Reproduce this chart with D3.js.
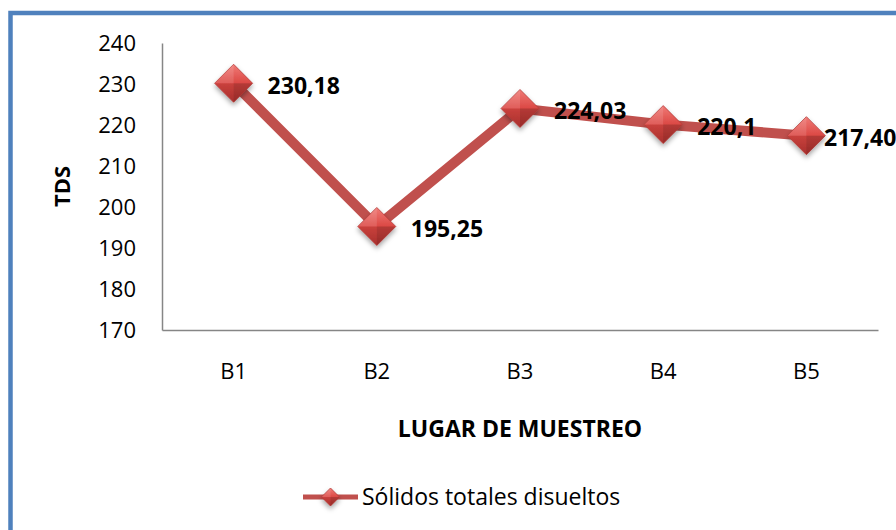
<!DOCTYPE html>
<html>
<head>
<meta charset="utf-8">
<script src="https://cdn.jsdelivr.net/npm/d3@7"></script>
<style>
  body { margin: 0; background: #fff; }
  svg { display: block; font-family: 'Open Sans', sans-serif; }
</style>
</head>
<body>
<div id="chart"></div>
<script>
// data
const categories = ['B1', 'B2', 'B3', 'B4', 'B5'];
const tdsValues = [230.18, 195.25, 224.03, 220.1, 217.40];
const valueLabels = ['230,18', '195,25', '224,03', '220,1', '217,40'];
const yTicks = [170, 180, 190, 200, 210, 220, 230, 240];
const seriesName = 'Sólidos totales disueltos';

var width = 896, height = 530;
var margin = {top: 43, right: 18, bottom: 200, left: 162};
var lineColor = '#c0504d';

var svg = d3.select('#chart')
  .append('svg')
  .attr('width', width)
  .attr('height', height);

var defs = svg.append('defs');

// gradient for the diamond markers
var grad = defs.append('linearGradient')
  .attr('id', 'markerGrad')
  .attr('x1', 0).attr('y1', 0).attr('x2', 0).attr('y2', 1);
grad.append('stop').attr('offset', '0%').attr('stop-color', '#f07a76');
grad.append('stop').attr('offset', '48%').attr('stop-color', '#dc4a46');
grad.append('stop').attr('offset', '52%').attr('stop-color', '#c8403c');
grad.append('stop').attr('offset', '100%').attr('stop-color', '#a8302d');

var shadow = defs.append('filter')
  .attr('id', 'shadow')
  .attr('x', '-50%').attr('y', '-50%')
  .attr('width', '200%').attr('height', '200%');
shadow.append('feDropShadow')
  .attr('dx', 0).attr('dy', 3)
  .attr('stdDeviation', 2.5)
  .attr('flood-color', '#000')
  .attr('flood-opacity', 0.35);

// outer blue frame (only top and left visible)
svg.append('rect')
  .attr('x', 10.5)
  .attr('y', 13)
  .attr('width', 960)
  .attr('height', 600)
  .attr('fill', 'none')
  .attr('stroke', '#4f81bd')
  .attr('stroke-width', 4.5);

var x = d3.scaleBand()
  .domain(categories)
  .range([margin.left, width - margin.right]);

var y = d3.scaleLinear()
  .domain([170, 240])
  .range([height - margin.bottom, margin.top]);

// axes
var yAxis = svg.append('g')
  .attr('transform', 'translate(' + margin.left + ',0)')
  .call(d3.axisLeft(y).tickValues(yTicks).tickSize(0).tickPadding(26));

var xAxis = svg.append('g')
  .attr('transform', 'translate(0,' + (height - margin.bottom) + ')')
  .call(d3.axisBottom(x).tickSize(0).tickPadding(33));

[yAxis, xAxis].forEach(function (g) {
  g.select('.domain').attr('stroke', '#868686').attr('stroke-width', 1.5);
  g.selectAll('text')
    .attr('font-family', "'Open Sans', sans-serif")
    .attr('font-size', 22)
    .attr('fill', '#000');
});
yAxis.selectAll('text').attr('dy', '0.36em');
xAxis.selectAll('text').attr('dy', '0.72em');

// axis titles
svg.append('text')
  .attr('transform', 'translate(70,' + y(205) + ') rotate(-90)')
  .attr('text-anchor', 'middle')
  .attr('font-size', 22)
  .attr('font-weight', 'bold')
  .text('TDS');

svg.append('text')
  .attr('x', x.range()[0] + (x.range()[1] - x.range()[0]) / 2)
  .attr('y', 437)
  .attr('text-anchor', 'middle')
  .attr('font-size', 23)
  .attr('font-weight', 'bold')
  .text('LUGAR DE MUESTREO');

// series line
var points = categories.map(function (c, i) {
  return {cat: c, value: tdsValues[i], label: valueLabels[i]};
});

var line = d3.line()
  .x(function (d) { return x(d.cat) + x.bandwidth() / 2; })
  .y(function (d) { return y(d.value); });

svg.append('path')
  .datum(points)
  .attr('d', line)
  .attr('fill', 'none')
  .attr('stroke', lineColor)
  .attr('stroke-width', 10)
  .attr('stroke-linejoin', 'round');

function diamond(g, r) {
  g.append('path')
    .attr('d', 'M0,' + (-r) + 'L' + r + ',0L0,' + r + 'L' + (-r) + ',0Z')
    .attr('fill', 'url(#markerGrad)')
    .attr('stroke', '#b53a37')
    .attr('stroke-width', 0.8)
    .attr('filter', 'url(#shadow)');
  // facet highlights
  g.append('path')
    .attr('d', 'M0,' + (-r) + 'L' + (-r) + ',0L0,0Z')
    .attr('fill', '#fff')
    .attr('opacity', 0.12);
  g.append('path')
    .attr('d', 'M0,0L' + r + ',0L0,' + r + 'Z')
    .attr('fill', '#000')
    .attr('opacity', 0.1);
}

var markers = svg.selectAll('g.marker')
  .data(points)
  .enter()
  .append('g')
  .attr('class', 'marker')
  .attr('transform', function (d) {
    return 'translate(' + (x(d.cat) + x.bandwidth() / 2) + ',' + y(d.value) + ')';
  });
markers.each(function () { diamond(d3.select(this), 19); });

// data labels
svg.selectAll('text.value')
  .data(points)
  .enter()
  .append('text')
  .attr('class', 'value')
  .attr('x', function (d) {
    return Math.min(x(d.cat) + x.bandwidth() / 2 + 34, width - margin.right - 54);
  })
  .attr('y', function (d) { return y(d.value) + 2; })
  .attr('dy', '0.36em')
  .attr('font-size', 23)
  .attr('font-weight', 'bold')
  .text(function (d) { return d.label; });

// legend
var legend = svg.append('g').attr('transform', 'translate(303,497)');
legend.append('line')
  .attr('x1', 0).attr('x2', 55)
  .attr('stroke', lineColor)
  .attr('stroke-width', 5);
var lm = legend.append('g').attr('transform', 'translate(27.5,0)');
diamond(lm, 9);
legend.append('text')
  .attr('x', 59)
  .attr('dy', '0.36em')
  .attr('font-size', 23)
  .text(seriesName);
</script>
</body>
</html>
